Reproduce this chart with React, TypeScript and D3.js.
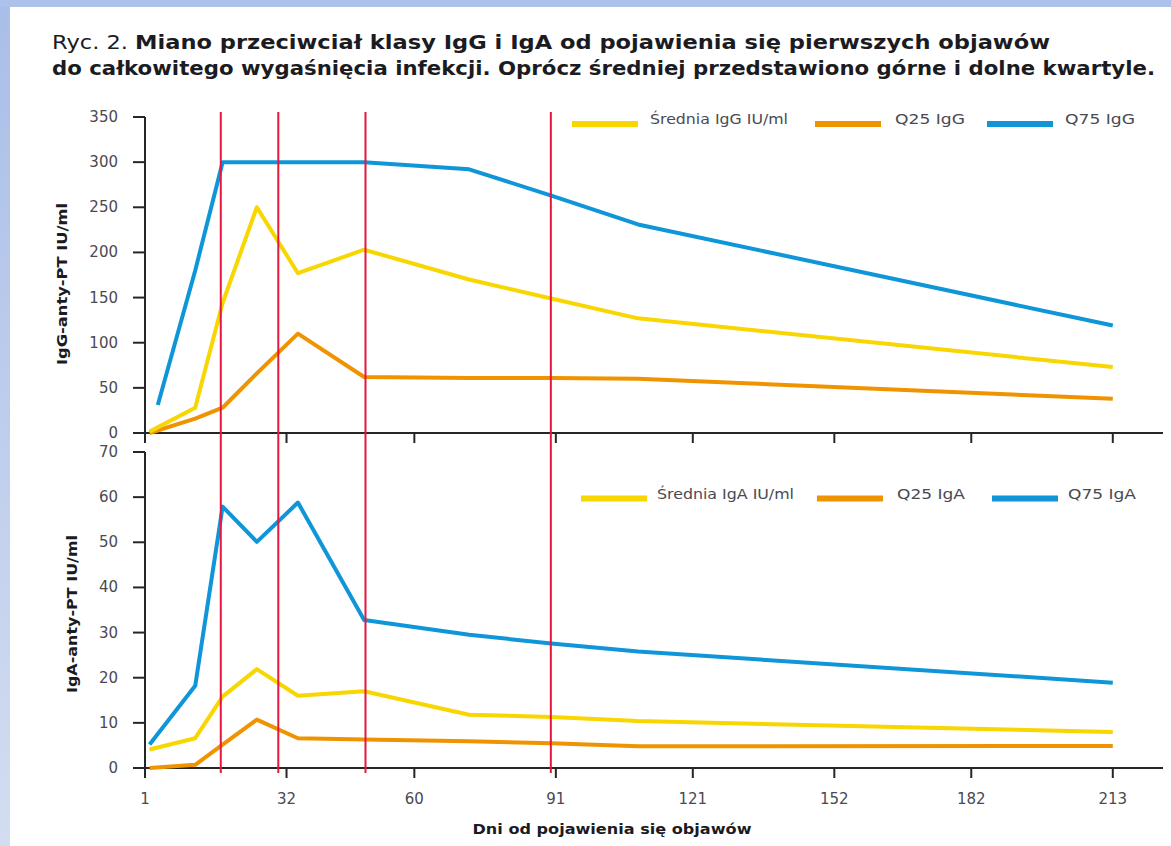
import React from "react";
import * as d3 from "d3";

// ---- data ----
const DAYS = [2, 12, 18, 25.5, 34.5, 49, 72, 90, 109, 213];
const IGG_Q75_DAYS = [3.8, 12, 18, 25.5, 34.5, 49, 72, 90, 109, 213];
const IGG_MEAN = [1.5, 28, 144, 250, 177, 203, 170, 149, 127, 73];
const IGG_Q25 = [0, 16, 28, 66, 110, 62, 61, 61, 60, 38];
const IGG_Q75 = [31, 180, 300, 300, 300, 300, 292, 263, 231, 119];

const IGA_MEAN = [4.1, 6.6, 15.8, 21.9, 16.0, 17.0, 11.8, 11.3, 10.4, 8.0];
const IGA_Q25 = [0, 0.7, 5.2, 10.7, 6.6, 6.3, 5.9, 5.5, 4.8, 4.9];
const IGA_Q75 = [5.2, 18.2, 57.9, 50.1, 58.8, 32.8, 29.5, 27.6, 25.8, 18.9];

const X_TICKS = [1, 32, 60, 91, 121, 152, 182, 213];
const IGG_TICKS = [0, 50, 100, 150, 200, 250, 300, 350];
const IGA_TICKS = [0, 10, 20, 30, 40, 50, 60, 70];
const MARKER_DAYS = [17.6, 30.2, 49.3, 89.9];

const LEGEND_IGG = ["Średnia IgG IU/ml", "Q25 IgG", "Q75 IgG"];
const LEGEND_IGA = ["Średnia IgA IU/ml", "Q25 IgA", "Q75 IgA"];

const TITLE_PREFIX = "Ryc. 2. ";
const TITLE_LINE1 = "Miano przeciwciał klasy IgG i IgA od pojawienia się pierwszych objawów";
const TITLE_LINE2 = "do całkowitego wygaśnięcia infekcji. Oprócz średniej przedstawiono górne i dolne kwartyle.";
const Y_TITLE_TOP = "IgG-anty-PT IU/ml";
const Y_TITLE_BOT = "IgA-anty-PT IU/ml";
const X_TITLE = "Dni od pojawienia się objawów";

const C_MEAN = "#f8d600";
const C_Q25 = "#ef9400";
const C_Q75 = "#0f96d8";
const C_RED = "#e5163f";
const C_AXIS = "#262626";
const C_LABEL = "#4a4a52";

const FONT = "'DejaVu Sans', sans-serif";

export default function App() {
  const W = 1171;
  const H = 846;
  const x = d3.scaleLinear().domain([1, 224]).range([145, 1163]);
  const yTop = d3.scaleLinear().domain([0, 350]).range([433, 117]);
  const yBot = d3.scaleLinear().domain([0, 70]).range([768, 452]);

  const mkLine = (ys: d3.ScaleLinear<number, number>, days: number[]) =>
    d3
      .line<number>()
      .x((_, i) => x(days[i]))
      .y((v) => ys(v));

  const topSeries = [
    { vals: IGG_Q25, days: DAYS, color: C_Q25 },
    { vals: IGG_MEAN, days: DAYS, color: C_MEAN },
    { vals: IGG_Q75, days: IGG_Q75_DAYS, color: C_Q75 },
  ];
  const botSeries = [
    { vals: IGA_Q25, days: DAYS, color: C_Q25 },
    { vals: IGA_MEAN, days: DAYS, color: C_MEAN },
    { vals: IGA_Q75, days: DAYS, color: C_Q75 },
  ];
  const legendColors = [C_MEAN, C_Q25, C_Q75];

  const topLegend = [
    { sx: 572, tx: 650, tw: 138 },
    { sx: 815, tx: 895, tw: 70 },
    { sx: 987, tx: 1065, tw: 70 },
  ];
  const botLegend = [
    { sx: 581, tx: 657, tw: 137 },
    { sx: 817, tx: 897, tw: 68 },
    { sx: 992, tx: 1068, tw: 68 },
  ];

  const yAxis = (ys: d3.ScaleLinear<number, number>, ticks: number[]) => (
    <g>
      <line x1={145} x2={145} y1={ys(ticks[ticks.length - 1])} y2={ys(0)} stroke={C_AXIS} strokeWidth={2} />
      {ticks.map((t) => (
        <g key={t}>
          <line x1={133} x2={145} y1={ys(t)} y2={ys(t)} stroke={C_AXIS} strokeWidth={2} />
          <text x={118} y={ys(t) + 5} textAnchor="end" fontSize={15} fill={C_LABEL} fontFamily={FONT}>
            {t}
          </text>
        </g>
      ))}
    </g>
  );

  const xAxis = (yPos: number) => (
    <g>
      <line x1={133} x2={1163} y1={yPos} y2={yPos} stroke={C_AXIS} strokeWidth={2} />
      {X_TICKS.map((t) => (
        <line key={t} x1={x(t)} x2={x(t)} y1={yPos} y2={yPos + 10} stroke={C_AXIS} strokeWidth={2} />
      ))}
    </g>
  );

  const legend = (
    items: { sx: number; tx: number; tw: number }[],
    labels: string[],
    sy: number,
    ty: number
  ) => (
    <g>
      {items.map((it, i) => (
        <g key={i}>
          <rect x={it.sx} y={sy - 3} width={66} height={6} fill={legendColors[i]} />
          <text
            x={it.tx}
            y={ty}
            fontSize={14}
            fill={C_LABEL}
            fontFamily={FONT}
            textLength={it.tw}
            lengthAdjust="spacingAndGlyphs"
          >
            {labels[i]}
          </text>
        </g>
      ))}
    </g>
  );

  return (
    <div style={{ position: "absolute", left: 0, top: 0 }}>
      <svg width={W} height={H} viewBox={`0 0 ${W} ${H}`} style={{ display: "block" }}>
        <defs>
          <linearGradient id="sideGrad" x1="0" y1="0" x2="0" y2="1">
            <stop offset="0" stopColor="#a9bee8" />
            <stop offset="1" stopColor="#d3ddf1" />
          </linearGradient>
        </defs>
        <rect x={0} y={0} width={W} height={H} fill="#ffffff" />
        <rect x={0} y={0} width={10} height={H} fill="url(#sideGrad)" />
        <rect x={0} y={0} width={W} height={7} fill="#adc2ea" />

        {/* title */}
        <text x={52} y={49} fontSize={20} fill="#1b1b22" fontFamily={FONT} textLength={998} lengthAdjust="spacingAndGlyphs">
          <tspan fontWeight="normal">{TITLE_PREFIX}</tspan>
          <tspan fontWeight="bold">{TITLE_LINE1}</tspan>
        </text>
        <text x={52} y={75} fontSize={20} fontWeight="bold" fill="#1b1b22" fontFamily={FONT} textLength={1103} lengthAdjust="spacingAndGlyphs">
          {TITLE_LINE2}
        </text>

        {/* axes */}
        {yAxis(yTop, IGG_TICKS)}
        {xAxis(yTop(0))}
        {yAxis(yBot, IGA_TICKS)}
        {xAxis(yBot(0))}

        {/* x tick labels */}
        {X_TICKS.map((t) => (
          <text key={t} x={x(t)} y={804} textAnchor="middle" fontSize={15} fill={C_LABEL} fontFamily={FONT}>
            {t}
          </text>
        ))}

        {/* axis titles */}
        <text
          transform={`translate(67,284) rotate(-90)`}
          textAnchor="middle"
          fontSize={14}
          fontWeight="bold"
          fill="#1b1b22"
          fontFamily={FONT}
          textLength={162}
          lengthAdjust="spacingAndGlyphs"
        >
          {Y_TITLE_TOP}
        </text>
        <text
          transform={`translate(77,614) rotate(-90)`}
          textAnchor="middle"
          fontSize={14}
          fontWeight="bold"
          fill="#1b1b22"
          fontFamily={FONT}
          textLength={158}
          lengthAdjust="spacingAndGlyphs"
        >
          {Y_TITLE_BOT}
        </text>
        <text
          x={612}
          y={834}
          textAnchor="middle"
          fontSize={14}
          fontWeight="bold"
          fill="#1b1b22"
          fontFamily={FONT}
          textLength={279}
          lengthAdjust="spacingAndGlyphs"
        >
          {X_TITLE}
        </text>

        {/* legends */}
        {legend(topLegend, LEGEND_IGG, 124, 124)}
        {legend(botLegend, LEGEND_IGA, 498.5, 499)}

        {/* series */}
        {topSeries.map((s, i) => (
          <path key={"t" + i} d={mkLine(yTop, s.days)(s.vals) || ""} fill="none" stroke={s.color} strokeWidth={4} strokeLinejoin="round" />
        ))}
        {botSeries.map((s, i) => (
          <path key={"b" + i} d={mkLine(yBot, s.days)(s.vals) || ""} fill="none" stroke={s.color} strokeWidth={4} strokeLinejoin="round" />
        ))}

        {/* red markers */}
        {MARKER_DAYS.map((d) => (
          <line key={d} x1={x(d)} x2={x(d)} y1={112} y2={773} stroke={C_RED} strokeWidth={2} />
        ))}
      </svg>
    </div>
  );
}
